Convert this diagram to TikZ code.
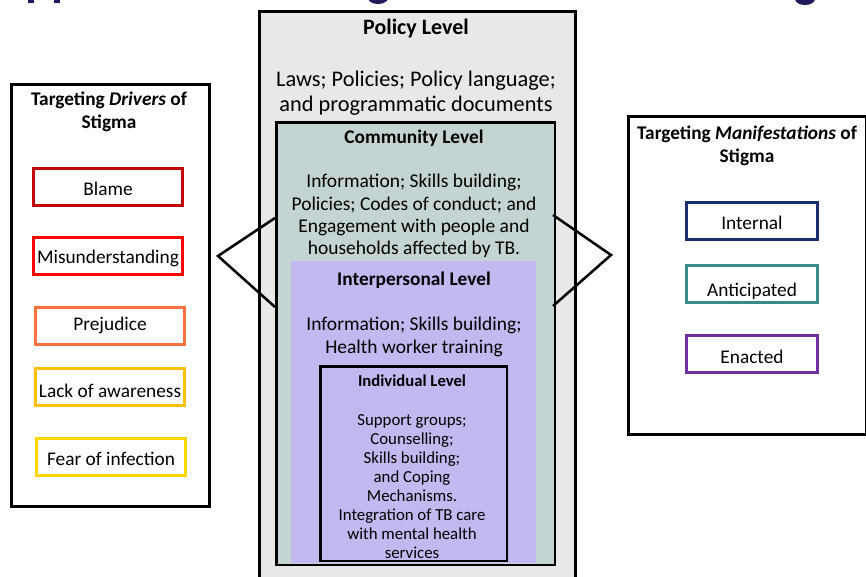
\documentclass[tikz,border=0pt]{standalone}
\usepackage{fontspec}
\setmainfont{Carlito}
\definecolor{policygray}{HTML}{E8E8E8}
\definecolor{commteal}{HTML}{C4D4D2}
\definecolor{lavender}{HTML}{C3B8F0}
\definecolor{cBlame}{HTML}{C00000}
\definecolor{cMisu}{HTML}{FF0000}
\definecolor{cPrej}{HTML}{FF7043}
\definecolor{cLack}{HTML}{FFC000}
\definecolor{cFear}{HTML}{FFD800}
\definecolor{cInt}{HTML}{1B2F6B}
\definecolor{cAnt}{HTML}{3A8A86}
\definecolor{cEna}{HTML}{7030A0}
\definecolor{titlenavy}{HTML}{1F1A5C}
\begin{document}
\begin{tikzpicture}[x=0.75pt,y=-0.75pt,
  frame/.style={draw=black, line width=1.9pt, rectangle, inner sep=0pt, anchor=north west},
  tag/.style={draw, line width=1.8pt, fill=white, rectangle, inner sep=0pt,
    minimum width=112pt, minimum height=28pt, text depth=0pt, text height=10.5pt,
    font=\fontsize{14.5}{16}\selectfont},
  heading/.style={font=\bfseries\fontsize{14.5}{17.3}\selectfont, align=center, anchor=north},
  body/.style={align=center, anchor=north, inner sep=0pt}]
\clip (0,0) rectangle (866,576);

% clipped descenders of the slide title above
\fill[titlenavy] (28,-2) rectangle (34,3);
\fill[titlenavy] (54,-2) rectangle (60,3);
\fill[titlenavy] (378,-2) ellipse [x radius=10, y radius=6];
\fill[titlenavy] (805,-1) ellipse [x radius=10, y radius=6];

% nested levels
\node[frame, fill=policygray, minimum width=237pt, minimum height=440pt] (policy) at (258,10) {};
\node[frame, fill=commteal, minimum width=209pt, minimum height=332pt] (community) at (275,121) {};
\fill[lavender] (291,261) rectangle (536,563);
\node[inner sep=0pt, anchor=north west, minimum width=183.75pt, minimum height=226.5pt] (interpersonal) at (291,261) {};
\node[frame, fill=lavender, minimum width=140pt, minimum height=146pt] (individual) at (319,365) {};

\node[heading, font=\bfseries\fontsize{16.5}{19}\selectfont] (policyT) at (416,14) {Policy Level};
\node[body, font=\fontsize{16.75}{18.75}\selectfont] (policyB) at (416,71) {Laws; Policies; Policy language;\\and programmatic documents};

\node[heading] (commT) at (414,125) {Community Level};
\node[body, font=\fontsize{14.6}{16.7}\selectfont] (commB) at (414,174) {Information; Skills building;\\Policies; Codes of conduct; and\\Engagement with people and\\households affected by TB.};

\node[heading] (interT) at (414,267) {Interpersonal Level};
\node[body, font=\fontsize{14.6}{17.3}\selectfont] (interB) at (414,317) {Information; Skills building;\\Health worker training};

\node[heading, font=\bfseries\fontsize{12.5}{14}\selectfont] (indivT) at (412,370) {Individual Level};
\node[body, font=\fontsize{12.6}{14.3}\selectfont] (indivB) at (412,414) {Support groups;\\Counselling;\\Skills building;\\and Coping\\Mechanisms.\\Integration of TB care\\with mental health\\services};

% side panels
\node[frame, fill=white, minimum width=148.5pt, minimum height=316.5pt] (drivers) at (10,83) {};
\node[heading] (driversT) at (109,87) {Targeting \textit{Drivers} of\\Stigma};
\node[tag, draw=cBlame, text height=12pt] (blame) at (108,187) {Blame};
\node[tag, draw=cMisu] (misu) at (108,256) {Misunderstanding};
\node[tag, draw=cPrej, text height=6pt] (prej) at (110,326) {Prejudice};
\node[tag, draw=cLack, text height=15pt] (lack) at (110,387) {Lack of awareness};
\node[tag, draw=cFear, text height=12pt] (fear) at (111,457) {Fear of infection};

\node[frame, fill=white, minimum width=178.5pt, minimum height=238.5pt] (manif) at (627,115) {};
\node[heading] (manifT) at (747,121) {Targeting \textit{Manifestations} of\\Stigma};
\node[tag, draw=cInt, minimum width=98pt, text height=12.75pt] (internal) at (752,221) {Internal};
\node[tag, draw=cAnt, minimum width=98pt, text height=18.75pt] (anticip) at (752,284) {Anticipated};
\node[tag, draw=cEna, minimum width=98pt, text height=14.25pt] (enacted) at (752,354) {Enacted};

% wedges linking the side panels to the community level
\coordinate (lTop) at (275,218);
\coordinate (lTip) at (218,256);
\coordinate (lBot) at (275,307);
\coordinate (rTop) at (553,215);
\coordinate (rTip) at (611,255);
\coordinate (rBot) at (553,306);
\draw[line width=1.9pt, line join=miter] (lTop) -- (lTip) -- (lBot);
\draw[line width=1.9pt, line join=miter] (rTop) -- (rTip) -- (rBot);
\end{tikzpicture}
\end{document}
